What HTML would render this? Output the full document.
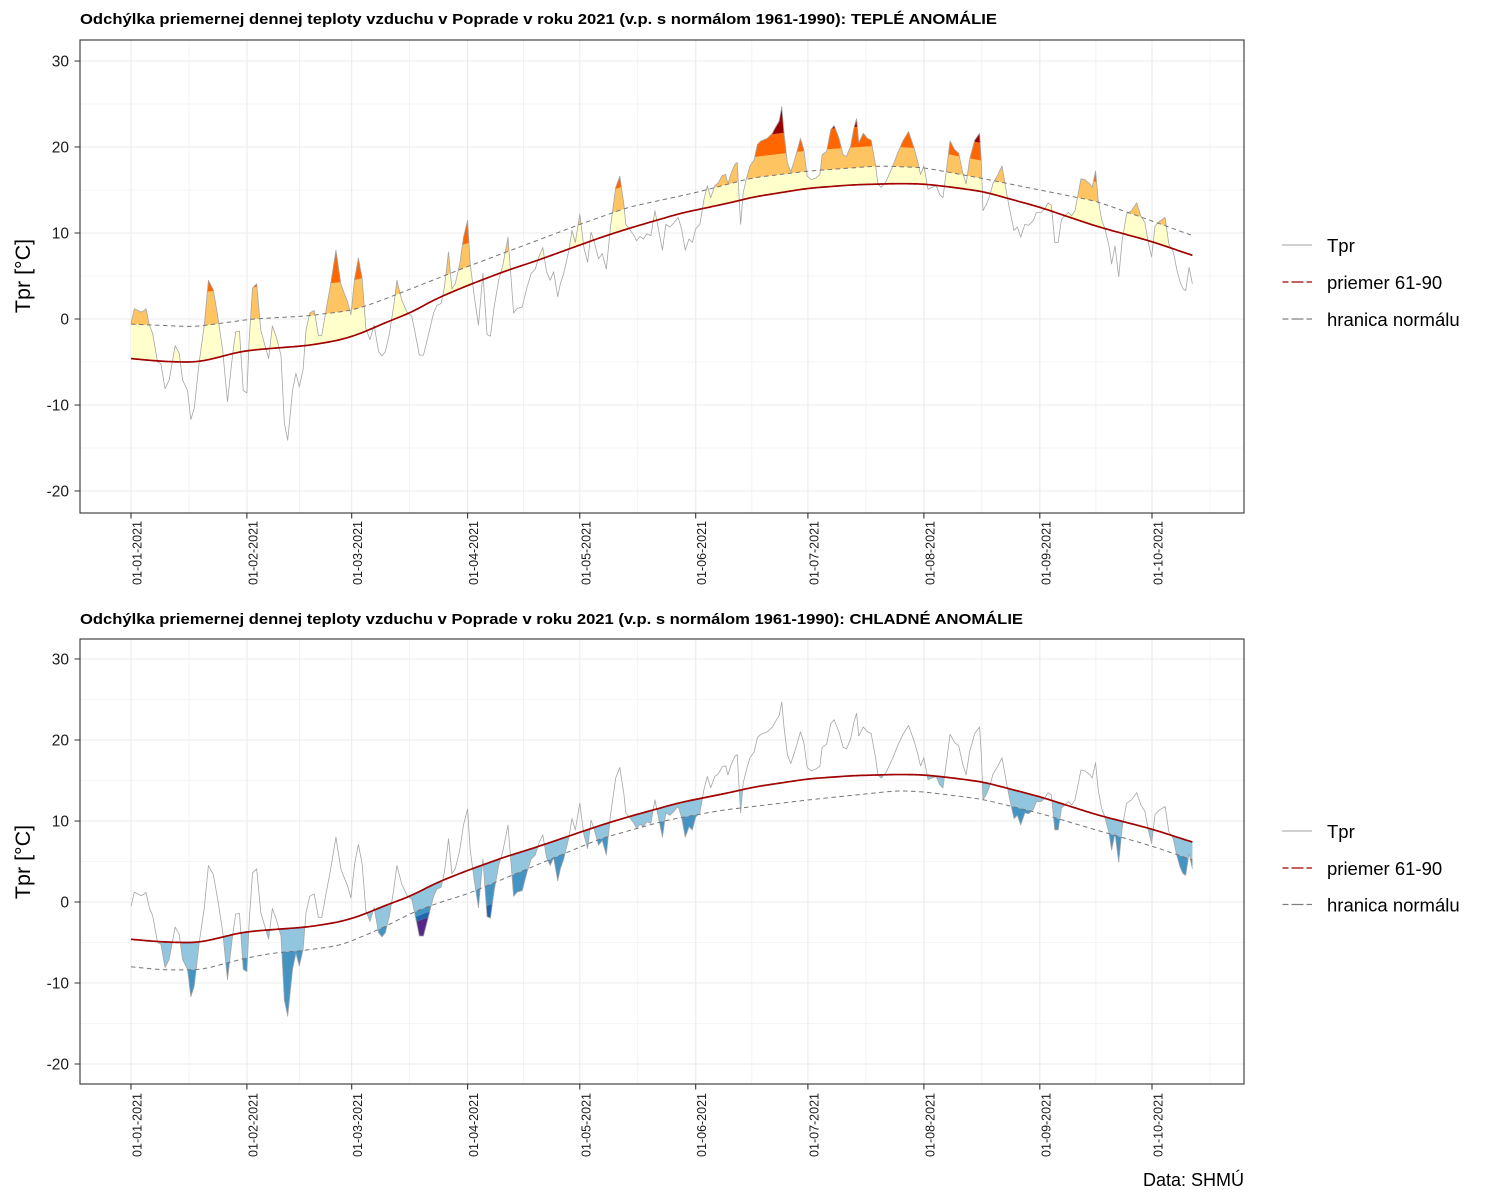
<!DOCTYPE html>
<html>
<head>
<meta charset="utf-8">
<style>
  html,body{margin:0;padding:0;background:#fff;}
  svg{display:block;}
  text{font-family:"Liberation Sans",Arial,sans-serif;}
</style>
</head>
<body>
<svg id="chart" xmlns="http://www.w3.org/2000/svg" width="1500" height="1200" viewBox="0 0 1500 1200">
  <rect x="0" y="0" width="1500" height="1200" fill="#ffffff"/>
  <g id="gt"></g>
  <g id="gb"></g>

  <!-- panel borders -->
  <rect x="80" y="40" width="1164" height="473" fill="none" stroke="#333333" stroke-width="1.1"/>
  <rect x="80" y="639" width="1164" height="445" fill="none" stroke="#333333" stroke-width="1.1"/>

  <!-- axis ticks -->
  <path d="M74.5 61H80M74.5 147H80M74.5 233H80M74.5 319H80M74.5 405H80M74.5 491H80
           M74.5 659H80M74.5 740H80M74.5 821H80M74.5 902H80M74.5 983H80M74.5 1064H80
           M131 513V518.5M246.9 513V518.5M351.7 513V518.5M467.6 513V518.5M579.8 513V518.5M695.7 513V518.5M807.9 513V518.5M923.9 513V518.5M1039.8 513V518.5M1152 513V518.5
           M131 1084V1089.5M246.9 1084V1089.5M351.7 1084V1089.5M467.6 1084V1089.5M579.8 1084V1089.5M695.7 1084V1089.5M807.9 1084V1089.5M923.9 1084V1089.5M1039.8 1084V1089.5M1152 1084V1089.5"
        stroke="#333333" stroke-width="1.1" fill="none"/>

  <!-- titles -->
  <text x="80" y="24" font-size="15" font-weight="bold" fill="#000" textLength="917" lengthAdjust="spacingAndGlyphs">Odchýlka priemernej dennej teploty vzduchu v Poprade v roku 2021 (v.p. s normálom 1961-1990): TEPLÉ ANOMÁLIE</text>
  <text x="80" y="624" font-size="15" font-weight="bold" fill="#000" textLength="943" lengthAdjust="spacingAndGlyphs">Odchýlka priemernej dennej teploty vzduchu v Poprade v roku 2021 (v.p. s normálom 1961-1990): CHLADNÉ ANOMÁLIE</text>

  <!-- y tick labels top -->
  <g font-size="15.5" fill="#1a1a1a" text-anchor="end">
    <text x="69" y="66.5">30</text>
    <text x="69" y="152.5">20</text>
    <text x="69" y="238.5">10</text>
    <text x="69" y="324.5">0</text>
    <text x="69" y="410.5">-10</text>
    <text x="69" y="496.5">-20</text>
    <text x="69" y="664.5">30</text>
    <text x="69" y="745.5">20</text>
    <text x="69" y="826.5">10</text>
    <text x="69" y="907.5">0</text>
    <text x="69" y="988.5">-10</text>
    <text x="69" y="1069.5">-20</text>
  </g>

  <!-- x tick labels -->
  <g font-size="12.5" fill="#1a1a1a" text-anchor="end">
    <text transform="translate(141.5,521) rotate(-90)">01-01-2021</text>
    <text transform="translate(257.4,521) rotate(-90)">01-02-2021</text>
    <text transform="translate(362.2,521) rotate(-90)">01-03-2021</text>
    <text transform="translate(478.1,521) rotate(-90)">01-04-2021</text>
    <text transform="translate(590.3,521) rotate(-90)">01-05-2021</text>
    <text transform="translate(706.2,521) rotate(-90)">01-06-2021</text>
    <text transform="translate(818.4,521) rotate(-90)">01-07-2021</text>
    <text transform="translate(934.4,521) rotate(-90)">01-08-2021</text>
    <text transform="translate(1050.3,521) rotate(-90)">01-09-2021</text>
    <text transform="translate(1162.5,521) rotate(-90)">01-10-2021</text>

    <text transform="translate(141.5,1093) rotate(-90)">01-01-2021</text>
    <text transform="translate(257.4,1093) rotate(-90)">01-02-2021</text>
    <text transform="translate(362.2,1093) rotate(-90)">01-03-2021</text>
    <text transform="translate(478.1,1093) rotate(-90)">01-04-2021</text>
    <text transform="translate(590.3,1093) rotate(-90)">01-05-2021</text>
    <text transform="translate(706.2,1093) rotate(-90)">01-06-2021</text>
    <text transform="translate(818.4,1093) rotate(-90)">01-07-2021</text>
    <text transform="translate(934.4,1093) rotate(-90)">01-08-2021</text>
    <text transform="translate(1050.3,1093) rotate(-90)">01-09-2021</text>
    <text transform="translate(1162.5,1093) rotate(-90)">01-10-2021</text>
  </g>

  <!-- y axis titles -->
  <text transform="translate(30,276) rotate(-90)" font-size="21.5" fill="#000" text-anchor="middle">Tpr [°C]</text>
  <text transform="translate(30,862) rotate(-90)" font-size="21.5" fill="#000" text-anchor="middle">Tpr [°C]</text>

  <!-- legend top -->
  <line x1="1282" y1="245" x2="1312" y2="245" stroke="#A3A3A3" stroke-width="1.1"/>
  <path d="M1282.5 282H1288.5M1291.5 282H1303.5M1306.5 282H1312" stroke="#A00000" stroke-width="1.2" fill="none"/>
  <path d="M1282.5 319H1288.5M1291.5 319H1303.5M1306.5 319H1312" stroke="#808080" stroke-width="1.2" fill="none"/>
  <g font-size="18.5" fill="#000">
    <text x="1327" y="252">Tpr</text>
    <text x="1327" y="289">priemer 61-90</text>
    <text x="1327" y="326">hranica normálu</text>
  </g>

  <!-- legend bottom -->
  <line x1="1282" y1="831" x2="1312" y2="831" stroke="#A3A3A3" stroke-width="1.1"/>
  <path d="M1282.5 868H1288.5M1291.5 868H1303.5M1306.5 868H1312" stroke="#A00000" stroke-width="1.2" fill="none"/>
  <path d="M1282.5 904.5H1288.5M1291.5 904.5H1303.5M1306.5 904.5H1312" stroke="#808080" stroke-width="1.2" fill="none"/>
  <g font-size="18.5" fill="#000">
    <text x="1327" y="838">Tpr</text>
    <text x="1327" y="875">priemer 61-90</text>
    <text x="1327" y="911.5">hranica normálu</text>
  </g>

  <!-- caption -->
  <text x="1244" y="1186" font-size="18" fill="#000" text-anchor="end">Data: SHMÚ</text>
</svg>

<script>
(function(){
  var NS='http://www.w3.org/2000/svg';
  function pairs(a){var r=[];for(var i=0;i<a.length;i+=2)r.push([a[i],a[i+1]]);return r;}
  var T=pairs([
  0,-0.5, 0.9,1.2, 1.8,1.0, 2.7,0.8, 3.6,1.0, 4.0,1.2, 4.9,-0.7, 5.8,-1.7, 7.1,-5.0, 8.0,-5.2, 9.1,-8.1, 10.2,-7.1, 11.8,-3.1, 12.9,-4.0, 13.8,-7.1, 15.1,-8.3, 16.0,-11.7, 16.9,-10.4, 18.3,-4.8, 19.6,-0.7, 20.7,4.5, 22.0,3.4, 23.2,0.3, 24.5,-3.6, 25.8,-9.6, 27.2,-4.0, 28.0,-1.5, 29.0,-1.4, 30.0,-8.3, 31.0,-8.6, 31.6,-2.4, 32.5,3.6, 33.6,4.1, 34.7,-1.3, 35.9,-3.2, 36.8,-4.6, 37.8,-0.8, 38.9,-2.2, 40.1,-4.2, 41.0,-12.1, 41.9,-14.1, 43.2,-8.3, 44.1,-6.3, 45.0,-7.9, 46.0,-5.9, 46.8,-1.3, 47.8,0.7, 49.0,1.0, 50.1,-1.9, 51.0,-1.9, 52.1,0.9, 53.4,4.1, 54.8,8.0, 56.1,4.1, 57.0,3.0, 57.9,2.0, 58.8,0.5, 59.8,4.7, 60.8,7.1, 61.8,4.7, 62.8,-1.1, 63.9,-2.4,
  65.0,-0.7, 66.2,-3.8, 67.1,-4.3, 68.0,-3.8, 69.1,-1.7, 70.2,1.4, 71.1,4.5, 72.4,2.2, 73.8,0.8, 75.1,0.3, 76.0,-1.7, 77.1,-4.2, 78.2,-4.2, 79.6,-1.7, 80.9,0.7, 81.8,1.6, 82.9,1.8, 83.8,3.7, 84.9,7.8, 85.8,3.5, 86.7,4.1, 87.9,6.4, 88.9,9.5, 90.0,11.5, 90.7,6.4, 91.8,2.6, 92.9,-0.7, 94.1,5.3, 95.2,-1.8, 96.1,-2.0, 97.1,1.4, 98.3,4.5, 99.4,6.2, 100.8,9.5, 101.4,6.0, 102.3,0.7, 103.2,1.2, 104.6,1.4, 105.9,3.7, 107.0,5.3, 108.1,5.8, 109.0,7.2, 110.1,8.3, 111.1,5.5, 112.1,4.5, 113.0,5.5, 114.1,2.6, 114.8,4.1, 115.7,5.3, 117.1,8.0, 117.9,10.3, 118.8,8.9, 120.0,12.2, 121.1,8.3, 122.1,6.6, 123.0,10.1, 123.9,8.9, 125.0,7.0, 126.0,7.6, 127.1,5.8, 128.2,10.7, 129.6,15.3, 130.7,16.6, 131.8,13.3,
  132.3,11.0, 133.2,10.5, 134.5,9.7, 135.2,9.1, 136.1,9.6, 137.0,9.3, 137.9,9.9, 139.0,9.7, 140.1,12.6, 141.0,10.5, 142.1,8.0, 143.0,11.0, 144.1,10.7, 145.2,11.2, 146.3,11.8, 147.2,10.5, 148.2,8.0, 149.2,9.3, 150.1,8.9, 151.0,10.5, 152.1,11.0, 153.2,13.9, 154.1,15.5, 155.0,14.1, 156.1,15.5, 157.0,15.8, 158.1,16.7, 159.0,16.8, 159.6,15.7, 160.5,17.0, 161.5,18.0, 162.1,18.2, 162.6,14.1, 163.0,11.0, 163.7,14.7, 164.6,16.4, 165.5,17.8, 166.6,18.5, 167.5,20.3, 168.4,20.7, 170.1,21.0, 171.5,21.6, 172.2,22.2, 173.3,23.0, 174.0,24.7, 174.6,21.6, 175.5,18.2, 176.4,17.1, 177.3,18.3, 178.2,19.7, 179.0,21.0, 179.9,19.7, 180.8,16.6, 181.9,16.2, 183.1,16.4, 184.2,16.8, 184.8,19.1, 186.0,19.5, 187.1,22.0, 188.0,22.5, 189.3,21.0, 190.4,19.1, 191.3,18.9, 192.4,20.1, 193.3,22.2, 194.0,23.3, 194.6,20.5, 195.8,21.6, 196.9,21.0, 197.9,20.8, 199.1,17.8, 199.7,15.7, 200.6,15.3,
  201.9,16.0, 203.7,17.8, 205.0,19.3, 206.4,20.7, 207.9,21.8, 209.5,19.7, 210.4,18.2, 211.1,16.8, 212.0,17.8, 213.1,15.1, 214.1,15.3, 215.3,15.5, 216.2,14.5, 217.1,14.1, 218.0,17.2, 219.0,20.7, 220.2,19.7, 221.3,19.3, 222.4,17.0, 223.3,15.7, 224.2,18.5, 225.6,20.8, 226.9,21.6, 227.4,17.8, 227.8,12.6, 228.7,13.3, 229.6,14.3, 230.5,15.8, 231.8,16.8, 232.9,17.8, 234.1,14.7, 234.9,12.8, 236.1,10.3, 237.0,10.7, 237.9,9.5, 239.0,11.0, 240.0,10.9, 241.2,11.4, 242.1,12.4, 243.3,12.4, 244.3,12.8, 245.2,13.5, 246.1,13.2, 247.0,8.9, 247.9,8.9, 248.8,11.6, 249.7,12.0, 250.6,12.4, 251.5,12.0, 252.4,12.6, 254.0,16.3, 255.0,16.2, 256.4,15.7, 257.0,15.3, 257.9,17.2, 258.6,13.9, 259.5,11.6, 260.4,10.5, 261.5,8.5, 262.2,6.4, 263.1,8.5, 264.1,4.9, 265.0,9.1, 266.2,12.2, 267.5,12.6, 268.9,13.5, 270.0,12.0, 271.1,11.2, 272.0,8.9, 272.9,7.2, 273.8,10.8, 275.1,11.4, 276.5,11.8, 277.5,8.7, 278.7,7.8, 279.6,5.8, 280.5,4.3, 281.3,3.5, 282.0,3.3, 282.9,6.0, 283.8,4.1
  ]);
  var MEAN=pairs([0,-4.6, 6,-4.85, 12,-5.0, 18,-5.0, 24,-4.4, 28,-3.9, 32.5,-3.6, 41,-3.3, 47,-3.1, 54,-2.6, 58,-2.2, 63,-1.4, 66,-0.8, 69.3,-0.2, 74.6,0.7, 81.8,2.4, 90,3.9, 99.6,5.5, 108.6,6.8, 120,8.6, 126.4,9.6, 133.6,10.6, 147,12.3, 160,13.5, 166.6,14.2, 181,15.2, 193,15.6, 205,15.75, 212,15.7, 220,15.3, 228,14.8, 243,13.0, 258,10.8, 273,9.0, 283.8,7.4]);
  var UP=pairs([0,-0.6, 17,-0.9, 32.5,0.0, 47,0.35, 59,1.0, 66,2.0, 90,6.1, 120,11.0, 133,13.0, 151,14.7, 166,16.4, 181,17.2, 200,17.8, 212,17.6, 227,16.4, 243,15.0, 258,13.7, 273,11.4, 283.8,9.7]);
  var LO=pairs([0,-8.0, 9,-8.4, 19,-8.35, 25,-7.6, 31,-6.9, 38,-6.3, 46,-6.0, 56,-5.35, 60.6,-4.5, 67.7,-3.1, 74.8,-1.4, 82.8,0.0, 89.7,0.95, 107.6,4.4, 125.4,7.8, 143.3,10.1, 157.6,11.3, 181,12.6, 205,13.75, 212,13.6, 227.5,12.7, 243,10.95, 258,8.9, 273,6.9, 283.8,5.2]);
  var SDA=pairs([0,4.2, 40,3.6, 60,3.4, 90,2.7, 130,2.65, 170,2.4, 200,2.35, 212,2.2, 220,2.05, 232,2.05, 258,2.3, 283.8,2.3]);
  var SDB=pairs([0,10, 72,10, 74,0.65, 80,0.65, 82,2.5, 99,2.5, 101,10, 300,10]);

  function f(p,d){
    if(d<=p[0][0])return p[0][1];
    for(var i=1;i<p.length;i++){
      if(d<=p[i][0]){var a=p[i-1],b=p[i];return a[1]+(b[1]-a[1])*(d-a[0])/(b[0]-a[0]);}
    }
    return p[p.length-1][1];
  }
  function fe(p,d){
    var a,b;
    if(d<=p[0][0]){a=p[0];b=p[1];}
    else if(d>=p[p.length-1][0]){a=p[p.length-2];b=p[p.length-1];}
    else{for(var i=1;i<p.length;i++){if(d<=p[i][0]){a=p[i-1];b=p[i];break;}}}
    return a[1]+(b[1]-a[1])*(d-a[0])/(b[0]-a[0]);
  }
  var STEP=0.1,END=283.8,n=Math.round(END/STEP)+1;
  function grid(p,w){
    var raw=[],out=[],i,j;
    for(i=-w;i<n+w;i++)raw.push(fe(p,i*STEP));
    for(i=0;i<n;i++){var s=0;for(j=0;j<=2*w;j++)s+=raw[i+j];out.push(s/(2*w+1));}
    return out;
  }
  function g(arr,d){
    var x=d/STEP,i=Math.floor(x);
    if(i>=n-1)return arr[n-1];
    if(i<0)return arr[0];
    var t=x-i;return arr[i]*(1-t)+arr[i+1]*t;
  }
  var gM=grid(MEAN,30),gU=grid(UP,30),gL=grid(LO,30),gA=grid(SDA,30),gB=grid(SDB,0);
  var days=[],i;
  for(i=0;i<n;i++)days.push(Math.round(i*STEP*1000)/1000);
  T.forEach(function(p){days.push(p[0]);});
  days.sort(function(a,b){return a-b;});
  days=days.filter(function(d,k){return k===0||d-days[k-1]>1e-6;});

  function X(d){return 131+3.74*d;}
  function el(parent,tag,attrs){var e=document.createElementNS(NS,tag);for(var k in attrs)e.setAttribute(k,attrs[k]);parent.appendChild(e);return e;}

  function panel(gid,y0,s,top,bottom,colors,isTop){
    var G=document.getElementById(gid);
    function Y(t){return y0-s*t;}
    var minor='',major='',t;
    for(t=-20;t<=30;t+=10)major+='M80 '+Y(t).toFixed(2)+'H1244';
    for(t=-15;t<=25;t+=10)minor+='M80 '+Y(t).toFixed(2)+'H1244';
    [0,31,59,90,120,151,181,212,243,273].forEach(function(d){major+='M'+X(d).toFixed(2)+' '+top+'V'+bottom;});
    [15.5,45,74.5,105,135.5,166,196.5,227.5,258,288.5].forEach(function(d){minor+='M'+X(d).toFixed(2)+' '+top+'V'+bottom;});
    el(G,'path',{d:minor,stroke:'#EDEDED','stroke-width':0.6,fill:'none'});
    el(G,'path',{d:major,stroke:'#EBEBEB','stroke-width':1.1,fill:'none'});

    for(var k=0;k<4;k++){
      var fw=[],bw=[];
      days.forEach(function(d){
        var tv=f(T,d),m=g(gM,d),u=g(gU,d),l=g(gL,d),a=g(gA,d),b=g(gB,d),edge,base,B;
        if(isTop){B=[m,u,u+a,u+2*a,1e9];base=B[k];edge=Math.min(Math.max(tv,B[k]),B[k+1]);}
        else{B=[m,l,l-b,l-2*b,-1e9];base=B[k];edge=Math.max(Math.min(tv,B[k]),B[k+1]);}
        var x=X(d).toFixed(2);
        fw.push(x+','+Y(edge).toFixed(2));
        bw.push(x+','+Y(base).toFixed(2));
      });
      bw.reverse();
      el(G,'path',{d:'M'+fw.join('L')+'L'+bw.join('L')+'Z',fill:colors[k],stroke:'none'});
    }
    // Tpr line
    el(G,'path',{d:'M'+T.map(function(p){return X(p[0]).toFixed(2)+','+Y(p[1]).toFixed(2);}).join('L'),
      fill:'none',stroke:'#A6A6A6','stroke-width':0.8,'stroke-linejoin':'round'});
    // dashed bound
    var bound=isTop?gU:gL,pts=[];
    for(i=0;i<n;i+=5)pts.push(X(i*STEP).toFixed(2)+','+Y(bound[i]).toFixed(2));
    pts.push(X(END).toFixed(2)+','+Y(bound[n-1]).toFixed(2));
    el(G,'path',{d:'M'+pts.join('L'),fill:'none',stroke:'#767676','stroke-width':1.0,'stroke-dasharray':'4.5 3.5'});
    // mean
    pts=[];
    for(i=0;i<n;i+=5)pts.push(X(i*STEP).toFixed(2)+','+Y(gM[i]).toFixed(2));
    pts.push(X(END).toFixed(2)+','+Y(gM[n-1]).toFixed(2));
    el(G,'path',{d:'M'+pts.join('L'),fill:'none',stroke:'#A00000','stroke-width':1.7,'stroke-linejoin':'round'});
  }

  panel('gt',319,8.6,40,513,['#FFFFCC','#FEC462','#FF6600','#990000'],true);
  panel('gb',902,8.1,639,1084,['#92C5DE','#4393C3','#2166AC','#542788'],false);
})();
</script>
</body>
</html>
